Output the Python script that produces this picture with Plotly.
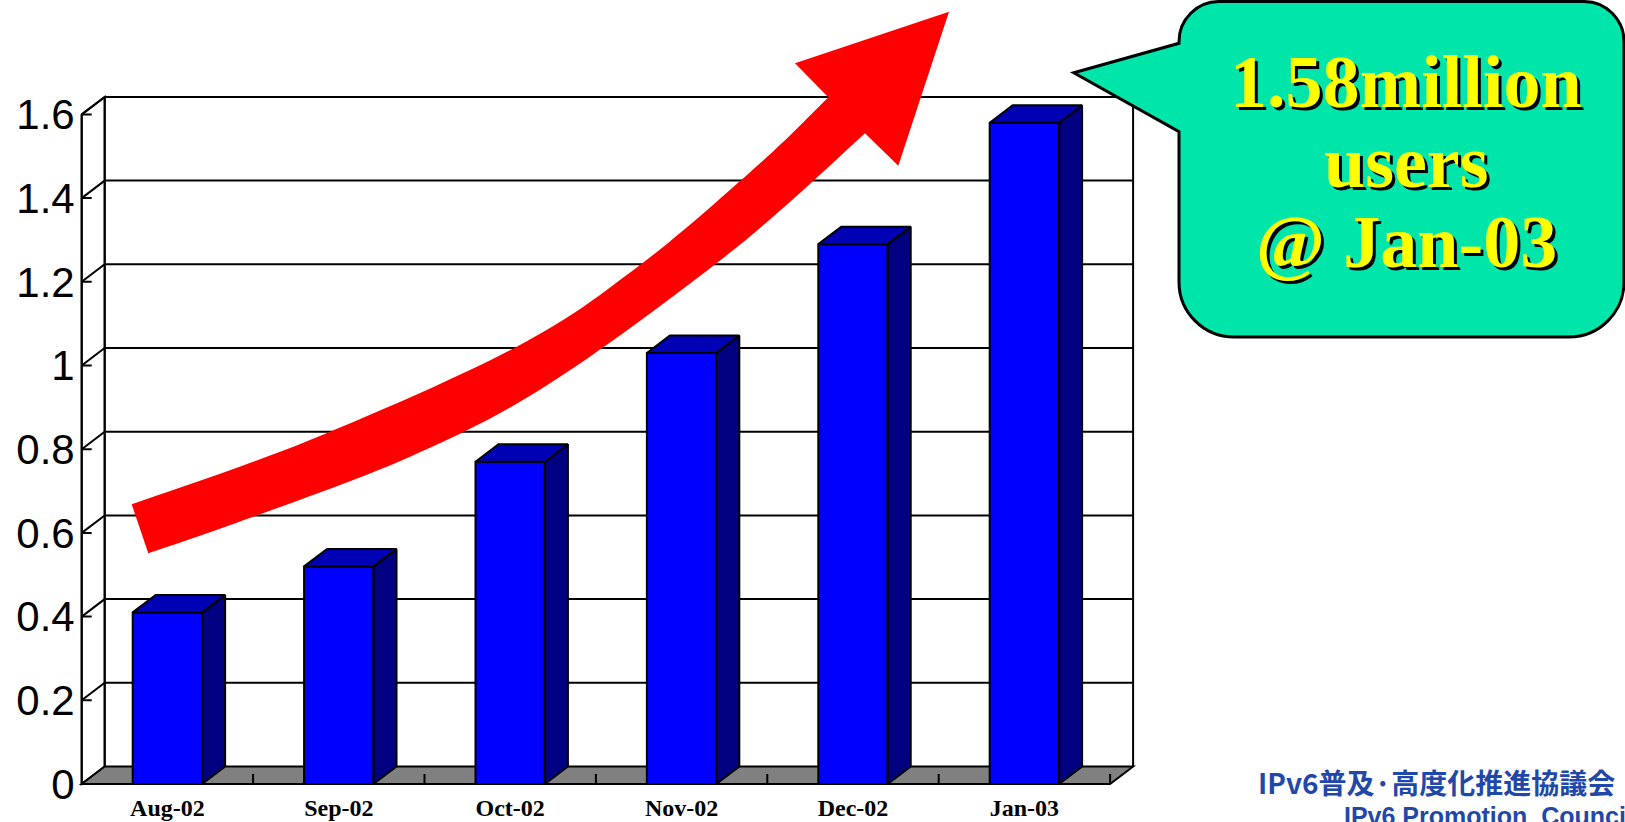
import plotly.graph_objects as go

W, H = 1625, 822

# ---------------- data ----------------
months = ["Aug-02", "Sep-02", "Oct-02", "Nov-02", "Dec-02", "Jan-03"]
users_million = [0.41, 0.52, 0.77, 1.03, 1.29, 1.58]
y_ticks = [0, 0.2, 0.4, 0.6, 0.8, 1.0, 1.2, 1.4, 1.6]
y_tick_text = ["0", "0.2", "0.4", "0.6", "0.8", "1", "1.2", "1.4", "1.6"]
callout_lines = ["1.58million", "users", "@ Jan-03"]
logo_jp = "IPv6普及·高度化推進協議会"
logo_en = "IPv6 Promotion  Council"

# ---------------- geometry (pixels) ----------------
X0, XR = 81.7, 1150.0      # front y-axis pixel, right end of plot domain
Y0, YT = 784.0, 80.0       # zero baseline pixel, top of plot domain
U = 171.4                  # px per category
V = 418.5                  # px per million users
PADL, PADB = 4.0, 3.0      # small padding so edge lines are not clipped
DXP, DYP = 23.0, 17.5      # 3-D depth offset in px
DX, DY = DXP / U, DYP / V
BW = 0.405
NCAT = len(months)
YMAX = y_ticks[-1]
xc = [i + 0.5 for i in range(NCAT)]

FRONT, TOP, SIDE = "#0000FF", "#0000B4", "#000080"
EDGE = dict(color="black", width=2)

fig = go.Figure()

# front faces of the bars
fig.add_trace(go.Bar(x=xc, y=users_million, width=BW,
                     marker=dict(color=FRONT, line=dict(color="black", width=2)),
                     hoverinfo="skip", showlegend=False))

# side and top faces computed from the values
for c, v in zip(xc, users_million):
    xl, xr = c - BW / 2, c + BW / 2
    fig.add_trace(go.Scatter(x=[xr, xr + DX, xr + DX, xr, xr],
                             y=[0, DY, v + DY, v, 0],
                             fill="toself", fillcolor=SIDE, mode="lines",
                             line=EDGE, hoverinfo="skip", showlegend=False))
    fig.add_trace(go.Scatter(x=[xl, xr, xr + DX, xl + DX, xl],
                             y=[v, v, v + DY, v + DY, v],
                             fill="toself", fillcolor=TOP, mode="lines",
                             line=EDGE, hoverinfo="skip", showlegend=False))


def dpath(pts, close=True):
    s = "M " + " L ".join(f"{x:.5f},{y:.5f}" for x, y in pts)
    return s + (" Z" if close else "")


shapes = []
# left wall
shapes.append(dict(type="path", xref="x", yref="y", layer="below",
                   path=dpath([(0, 0), (0, YMAX), (DX, YMAX + DY), (DX, DY)]),
                   fillcolor="white", line=EDGE))
# floor
shapes.append(dict(type="path", xref="x", yref="y", layer="below",
                   path=dpath([(0, 0), (NCAT, 0), (NCAT + DX, DY), (DX, DY)]),
                   fillcolor="#808080", line=EDGE))
# gridlines (front axis -> back wall)
for v in y_ticks[1:]:
    shapes.append(dict(type="path", xref="x", yref="y", layer="below",
                       path=dpath([(0, v), (DX, v + DY), (NCAT + DX, v + DY)], close=False),
                       line=EDGE))
# back wall verticals
for xx in (DX, NCAT + DX):
    shapes.append(dict(type="line", xref="x", yref="y", layer="below",
                       x0=xx, x1=xx, y0=DY, y1=YMAX + DY, line=EDGE))
# front axis
shapes.append(dict(type="line", xref="x", yref="y", layer="below",
                   x0=0, x1=0, y0=0, y1=YMAX, line=EDGE))
# y ticks (inward)
for v in y_ticks:
    shapes.append(dict(type="line", xref="x", yref="y", layer="below",
                       x0=0, x1=10 / U, y0=v, y1=v, line=EDGE))
# floor ticks at category boundaries
for k in range(1, NCAT + 1):
    shapes.append(dict(type="line", xref="x", yref="y", layer="below",
                       x0=k, x1=k, y0=0, y1=10 / V, line=EDGE))


# ---------------- decorations in paper coords ----------------
def P(x, y):
    return x / W, 1 - y / H


def ppath(cmds):
    out = []
    for cmd in cmds:
        op = cmd[0]
        pts = cmd[1:]
        coords = " ".join("{:.5f},{:.5f}".format(*P(x, y)) for x, y in pts)
        out.append(f"{op} {coords}" if pts else op)
    return " ".join(out)


def catmull(pts, n=14):
    Pp = [pts[0]] + list(pts) + [pts[-1]]
    res = []
    for i in range(1, len(Pp) - 2):
        p0, p1, p2, p3 = Pp[i - 1], Pp[i], Pp[i + 1], Pp[i + 2]
        for j in range(n):
            t = j / n
            t2, t3 = t * t, t * t * t
            q = []
            for a in range(2):
                q.append(0.5 * (2 * p1[a] + (-p0[a] + p2[a]) * t
                                + (2 * p0[a] - 5 * p1[a] + 4 * p2[a] - p3[a]) * t2
                                + (-p0[a] + 3 * p1[a] - 3 * p2[a] + p3[a]) * t3))
            res.append(tuple(q))
    res.append(pts[-1])
    return res


upper = [(131.7, 504.3), (310, 440), (516.7, 346.7), (640, 265), (760, 163.3), (828.3, 97.3)]
lower = [(148.3, 553.3), (253.3, 516.7), (410, 456.7), (550, 383.3), (733.3, 250), (865, 133.3)]
head = [(795, 63.3), (949, 11.7), (898.3, 165.7)]
up_s = catmull(upper)
lo_s = catmull(lower)[::-1]
cmds = [("M", up_s[0])] + [("L", p) for p in up_s[1:]] + [("L", p) for p in head] \
       + [("L", p) for p in lo_s] + [("Z",)]
shapes.append(dict(type="path", xref="paper", yref="paper", layer="above",
                   path=ppath(cmds), fillcolor="#FF0000", line=dict(width=0)))

# callout bubble
L, R, T, B = 1179.0, 1624.0, 1.5, 337.0
rt, rb = 40.0, 55.0
k = 0.5523
bub = [
    ("M", (L, 43.3)),
    ("L", (L, T + rt)),
    ("C", (L, T + rt - k * rt), (L + rt - k * rt, T), (L + rt, T)),
    ("L", (R - rt, T)),
    ("C", (R - rt + k * rt, T), (R, T + rt - k * rt), (R, T + rt)),
    ("L", (R, B - rb)),
    ("C", (R, B - rb + k * rb), (R - rb + k * rb, B), (R - rb, B)),
    ("L", (L + rb, B)),
    ("C", (L + rb - k * rb, B), (L, B - rb + k * rb), (L, B - rb)),
    ("L", (L, 131.7)),
    ("L", (1073.8, 72.7)),
    ("Z",),
]
shapes.append(dict(type="path", xref="paper", yref="paper", layer="above",
                   path=ppath(bub), fillcolor="#00E5AA", line=dict(color="black", width=3)))

annotations = []
cx = 1406.0
for txt, yc in zip(callout_lines, [82, 162, 242]):
    for col, xs, ys in (("black", 3, -3), ("#FFFF00", 0, 0)):
        annotations.append(dict(xref="paper", yref="paper", x=cx / W, y=1 - yc / H,
                                text=txt, showarrow=False, xanchor="center", yanchor="middle",
                                xshift=xs, yshift=ys,
                                font=dict(family="Liberation Serif", size=74, color=col,
                                          weight="bold")))

annotations.append(dict(xref="paper", yref="paper", x=1256 / W, y=1 - 782 / H,
                        text=logo_jp, showarrow=False, xanchor="left", yanchor="middle",
                        font=dict(family="Noto Sans CJK JP", size=28, color="#1F48A8",
                                  weight="bold")))
annotations.append(dict(xref="paper", yref="paper", x=1342 / W, y=1 - 816 / H,
                        text=logo_en, showarrow=False, xanchor="left", yanchor="middle",
                        font=dict(family="Liberation Sans", size=25, color="#1F48A8",
                                  weight="bold")))

fig.update_layout(
    width=W, height=H,
    margin=dict(l=0, r=0, t=0, b=0),
    paper_bgcolor="white", plot_bgcolor="white",
    showlegend=False,
    shapes=shapes, annotations=annotations,
    xaxis=dict(domain=[(X0 - PADL) / W, XR / W],
               range=[-PADL / U, (XR - X0) / U],
               tickmode="array", tickvals=xc, ticktext=months,
               ticks="", showgrid=False, zeroline=False, showline=False,
               automargin=False, fixedrange=True,
               tickfont=dict(family="Liberation Serif", size=24, color="black", weight="bold"),
               ticklabelstandoff=4),
    yaxis=dict(domain=[(H - Y0 - PADB) / H, (H - YT) / H],
               range=[-PADB / V, (Y0 - YT) / V],
               tickmode="array", tickvals=y_ticks, ticktext=y_tick_text,
               ticks="", showgrid=False, zeroline=False, showline=False,
               automargin=False, fixedrange=True,
               tickfont=dict(family="Liberation Sans", size=42, color="black"),
               ticklabelstandoff=2),
)

fig.write_html("out.html",
               config={"displayModeBar": False},
               post_script="document.body.style.margin='0';document.body.style.overflow='hidden';")
